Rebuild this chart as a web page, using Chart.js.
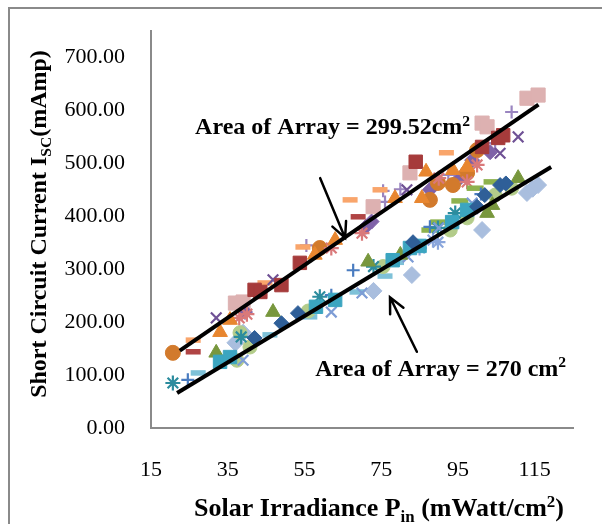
<!DOCTYPE html>
<html>
<head>
<meta charset="utf-8">
<script src="https://cdn.jsdelivr.net/npm/chart.js@4.4.1/dist/chart.umd.min.js"></script>
<style>
  html, body { margin: 0; padding: 0; background: #fff; overflow: hidden; }
  #wrap { position: relative; width: 602px; height: 524px; }
  #frame { position: absolute; left: 8px; top: 7px; width: 640px; height: 560px; border: 2px solid #8a8a8a; box-sizing: border-box; }
  canvas { position: absolute; left: 0; top: 0; }
</style>
</head>
<body>
<div id="wrap">
  <div id="frame"></div>
  <canvas id="chart" width="602" height="524"></canvas>
</div>
<script>
// axis ticks
const xTicks = [15, 35, 55, 75, 95, 115];
const xTickLabels = ['15', '35', '55', '75', '95', '115'];
const yTicks = [0, 100, 200, 300, 400, 500, 600, 700];
const yTickLabels = ['0.00', '100.00', '200.00', '300.00', '400.00', '500.00', '600.00', '700.00'];

// array area 299.52 cm2 -- [irradiance, current]
const maroonSquare = [[42, 261], [43.5, 257], [49, 270], [53.8, 312], [84, 503], [101.3, 531], [105.5, 548], [106.8, 553]];
const maroonDash = [[26, 144], [69, 399]];
const orangeTriangle = [[33, 181], [35.6, 204], [57.7, 327], [63, 355], [78.6, 434], [85.6, 434], [86.7, 484], [93.7, 487], [97.4, 493]];
const purpleX = [[32, 208], [46.8, 280], [81.7, 450], [106, 519], [110.7, 550]];
const pinkStar = [[38, 208], [40, 215], [62, 340], [70, 368], [90, 472], [97.4, 465], [100, 497]];
const orangeCircle = [[20.7, 142], [59, 340], [87.7, 431], [89.8, 463], [93.7, 459], [97.4, 482], [100, 525]];
const purpleDiamond = [[39.5, 219], [71, 380], [72.5, 390], [87.7, 450], [95.5, 472], [98.7, 506], [103.4, 521]];
const lightPinkSquare = [[37, 236], [39, 238], [72.9, 418], [82.5, 482], [101.3, 576], [102.6, 569], [113, 623], [115.9, 629]];
const lightOrangeDash = [[26, 166], [44.7, 274], [54.6, 342], [66.9, 431], [74.7, 450], [92, 520]];
const lightPurplePlus = [[55.5, 345], [76, 427], [75.5, 448], [80, 451], [92.5, 478], [104.7, 538], [109, 597]];

// array area 270 cm2
const darkBlueDiamond = [[42, 170], [49, 198], [53.3, 217], [83.3, 351], [100, 418], [102, 440], [106, 459], [107.5, 462]];
const cyanSquare = [[33, 125], [35.6, 134], [58, 229], [63, 242], [78, 317], [82.5, 340], [85, 344], [93.5, 389], [97.4, 412]];
const greenTriangle = [[32, 142], [46.8, 219], [71.6, 314], [80, 327], [102.6, 406], [104, 421], [110.7, 472]];
const lightBlueX = [[39, 128], [62, 219], [70, 255], [82, 323], [90, 378], [98.7, 425]];
const tealStar = [[20.7, 85], [38.5, 172], [59, 248], [73, 305], [89.8, 378], [94.3, 406]];
const lightGreenCircle = [[37.4, 128], [38.2, 180], [40.8, 153], [56, 221], [75.5, 305], [93, 374], [97.4, 397], [104.7, 440], [109, 453]];
const bluePlus = [[24.6, 91], [62, 251], [67.7, 298], [87.7, 380], [101, 442]];
const lightCyanDash = [[27.3, 104], [46, 176], [56.4, 210], [68.7, 257], [76, 287], [79, 313]];
const greenDash = [[87.7, 374], [90, 389], [95.5, 429], [99.5, 453], [103.9, 465]];
const lightBlueDiamond = [[37, 161], [39, 180], [73, 259], [83, 289], [101.3, 374], [113, 444], [114.5, 452], [115.9, 459]];
const lightBlueAsterisk = [[85, 340], [88.5, 355], [89.8, 351]];

// linear trend lines (end points)
const upperTrendX = [22.5, 116];
const upperTrendY = [146, 611];
const lowerTrendX = [21.8, 119.3];
const lowerTrendY = [66, 493];

const serif = "'Liberation Serif', 'Times New Roman', serif";

const markerSets = [
  { data: darkBlueDiamond, shape: 'rectRot', color: '#2f5f98', r: 7.5 },
  { data: cyanSquare, shape: 'rect', color: '#3ba5c0', r: 9.5 },
  { data: greenTriangle, shape: 'triangle', color: '#78973d', r: 8.5 },
  { data: lightBlueX, shape: 'crossRot', color: '#7d9cd5', r: 7.5 },
  { data: tealStar, shape: 'star', color: '#2c8c9e', r: 7.5 },
  { data: lightGreenCircle, shape: 'circle', color: '#b3cc8a', r: 7 },
  { data: bluePlus, shape: 'cross', color: '#4a7cc0', r: 6.5 },
  { data: lightCyanDash, shape: 'line', color: '#7ec1d8', r: 7.5 },
  { data: greenDash, shape: 'line', color: '#8db24e', r: 8.5 },
  { data: lightBlueDiamond, shape: 'rectRot', color: '#a9bede', r: 8.5 },
  { data: lightBlueAsterisk, shape: 'star', color: '#8aa6dc', r: 7.5 },
  { data: maroonSquare, shape: 'rect', color: '#a63b3b', r: 9.5 },
  { data: maroonDash, shape: 'line', color: '#b04444', r: 7.5 },
  { data: orangeTriangle, shape: 'triangle', color: '#e8862f', r: 8.5 },
  { data: purpleX, shape: 'crossRot', color: '#6f5195', r: 7.5 },
  { data: pinkStar, shape: 'star', color: '#d9797a', r: 7.5 },
  { data: orangeCircle, shape: 'circle', color: '#d27a2c', r: 7.5 },
  { data: purpleDiamond, shape: 'rectRot', color: '#7f62a8', r: 7.5 },
  { data: lightPinkSquare, shape: 'rect', color: '#ddb1b1', r: 10 },
  { data: lightOrangeDash, shape: 'line', color: '#f9a56b', r: 7.5 },
  { data: lightPurplePlus, shape: 'cross', color: '#9a85c0', r: 6.5 }
];

const datasets = markerSets.map(s => {
  const thin = s.shape === 'cross' || s.shape === 'crossRot' || s.shape === 'star';
  return {
    type: 'scatter',
    data: s.data.map(([x, y]) => ({ x, y })),
    pointStyle: s.shape,
    pointRadius: s.r,
    backgroundColor: s.color,
    borderColor: s.color,
    borderWidth: s.shape === 'line' ? 5.5 : thin ? 2.2 : 1,
    order: 1
  };
});

[[upperTrendX, upperTrendY], [lowerTrendX, lowerTrendY]].forEach(([xs, ys]) => {
  datasets.push({
    type: 'scatter',
    data: xs.map((x, i) => ({ x, y: ys[i] })),
    showLine: true,
    pointRadius: 0,
    borderColor: '#000',
    borderWidth: 4,
    order: 0
  });
});

// annotation texts and arrows, placed in data units
const notes = [
  { x: 26.5, y: 555, parts: [{ t: 'Area of Array = 299.52cm' }, { t: '2', sup: true }] },
  { x: 57.8, y: 98, parts: [{ t: 'Area of Array = 270 cm' }, { t: '2', sup: true }] }
];
const arrows = [
  { from: [59.1, 472], to: [65.6, 359] },
  { from: [84.3, 144], to: [77.3, 247] }
];

function drawRich(ctx, parts, x, y, size, center) {
  let total = 0;
  parts.forEach(p => {
    ctx.font = 'bold ' + (p.sub || p.sup ? size * 0.65 : size) + 'px ' + serif;
    p.w = ctx.measureText(p.t).width;
    total += p.w;
  });
  let cx = center ? x - total / 2 : x;
  parts.forEach(p => {
    ctx.font = 'bold ' + (p.sub || p.sup ? size * 0.65 : size) + 'px ' + serif;
    const dy = p.sub ? size * 0.22 : p.sup ? -size * 0.36 : 0;
    ctx.fillText(p.t, cx, y + dy);
    cx += p.w;
  });
}

const overlay = {
  id: 'overlay',
  afterDraw(chart) {
    const { ctx, scales: { x, y } } = chart;
    ctx.save();
    ctx.fillStyle = '#000';
    ctx.textAlign = 'left';
    ctx.textBaseline = 'alphabetic';

    notes.forEach(n => drawRich(ctx, n.parts, x.getPixelForValue(n.x), y.getPixelForValue(n.y), 24, false));

    ctx.strokeStyle = '#000';
    ctx.lineWidth = 2.5;
    ctx.lineCap = 'round';
    arrows.forEach(a => {
      const x1 = x.getPixelForValue(a.from[0]), y1 = y.getPixelForValue(a.from[1]);
      const x2 = x.getPixelForValue(a.to[0]), y2 = y.getPixelForValue(a.to[1]);
      const ang = Math.atan2(y2 - y1, x2 - x1);
      const head = 17, spread = 0.45;
      ctx.beginPath();
      ctx.moveTo(x1, y1);
      ctx.lineTo(x2, y2);
      ctx.moveTo(x2 - head * Math.cos(ang - spread), y2 - head * Math.sin(ang - spread));
      ctx.lineTo(x2, y2);
      ctx.lineTo(x2 - head * Math.cos(ang + spread), y2 - head * Math.sin(ang + spread));
      ctx.stroke();
    });

    // axis titles
    drawRich(ctx, [{ t: 'Solar Irradiance P' }, { t: 'in', sub: true }, { t: ' (mWatt/cm' }, { t: '2', sup: true }, { t: ')' }], 379, 516, 26, true);
    ctx.translate(46, 224);
    ctx.rotate(-Math.PI / 2);
    drawRich(ctx, [{ t: 'Short Circuit Current I' }, { t: 'SC', sub: true }, { t: '(mAmp)' }], 0, 0, 24, true);
    ctx.restore();
  }
};

new Chart(document.getElementById('chart'), {
  data: { datasets },
  plugins: [overlay],
  options: {
    responsive: false,
    animation: false,
    layout: { padding: { left: 0, right: 29, top: 31, bottom: 0 } },
    plugins: { legend: { display: false }, tooltip: { enabled: false } },
    scales: {
      x: {
        type: 'linear',
        min: 15,
        max: 125,
        afterBuildTicks: s => { s.ticks = xTicks.map(v => ({ value: v })); },
        afterFit: s => { s.height = 96; s.paddingLeft = 0; s.paddingRight = 0; },
        grid: { display: false, drawTicks: false },
        border: { color: '#8a8a8a', width: 2 },
        ticks: {
          font: { family: serif, size: 22 },
          color: '#000',
          padding: 29,
          maxRotation: 0,
          autoSkip: false,
          callback: (v, i) => xTickLabels[i]
        }
      },
      y: {
        type: 'linear',
        min: 0,
        max: 750,
        afterBuildTicks: s => { s.ticks = yTicks.map(v => ({ value: v })); },
        afterFit: s => { s.width = 151; s.paddingTop = 0; s.paddingBottom = 0; },
        grid: { display: false, drawTicks: false },
        border: { color: '#8a8a8a', width: 2 },
        ticks: {
          font: { family: serif, size: 22 },
          color: '#000',
          padding: 26,
          autoSkip: false,
          callback: (v, i) => yTickLabels[i]
        }
      }
    }
  }
});
</script>
</body>
</html>
